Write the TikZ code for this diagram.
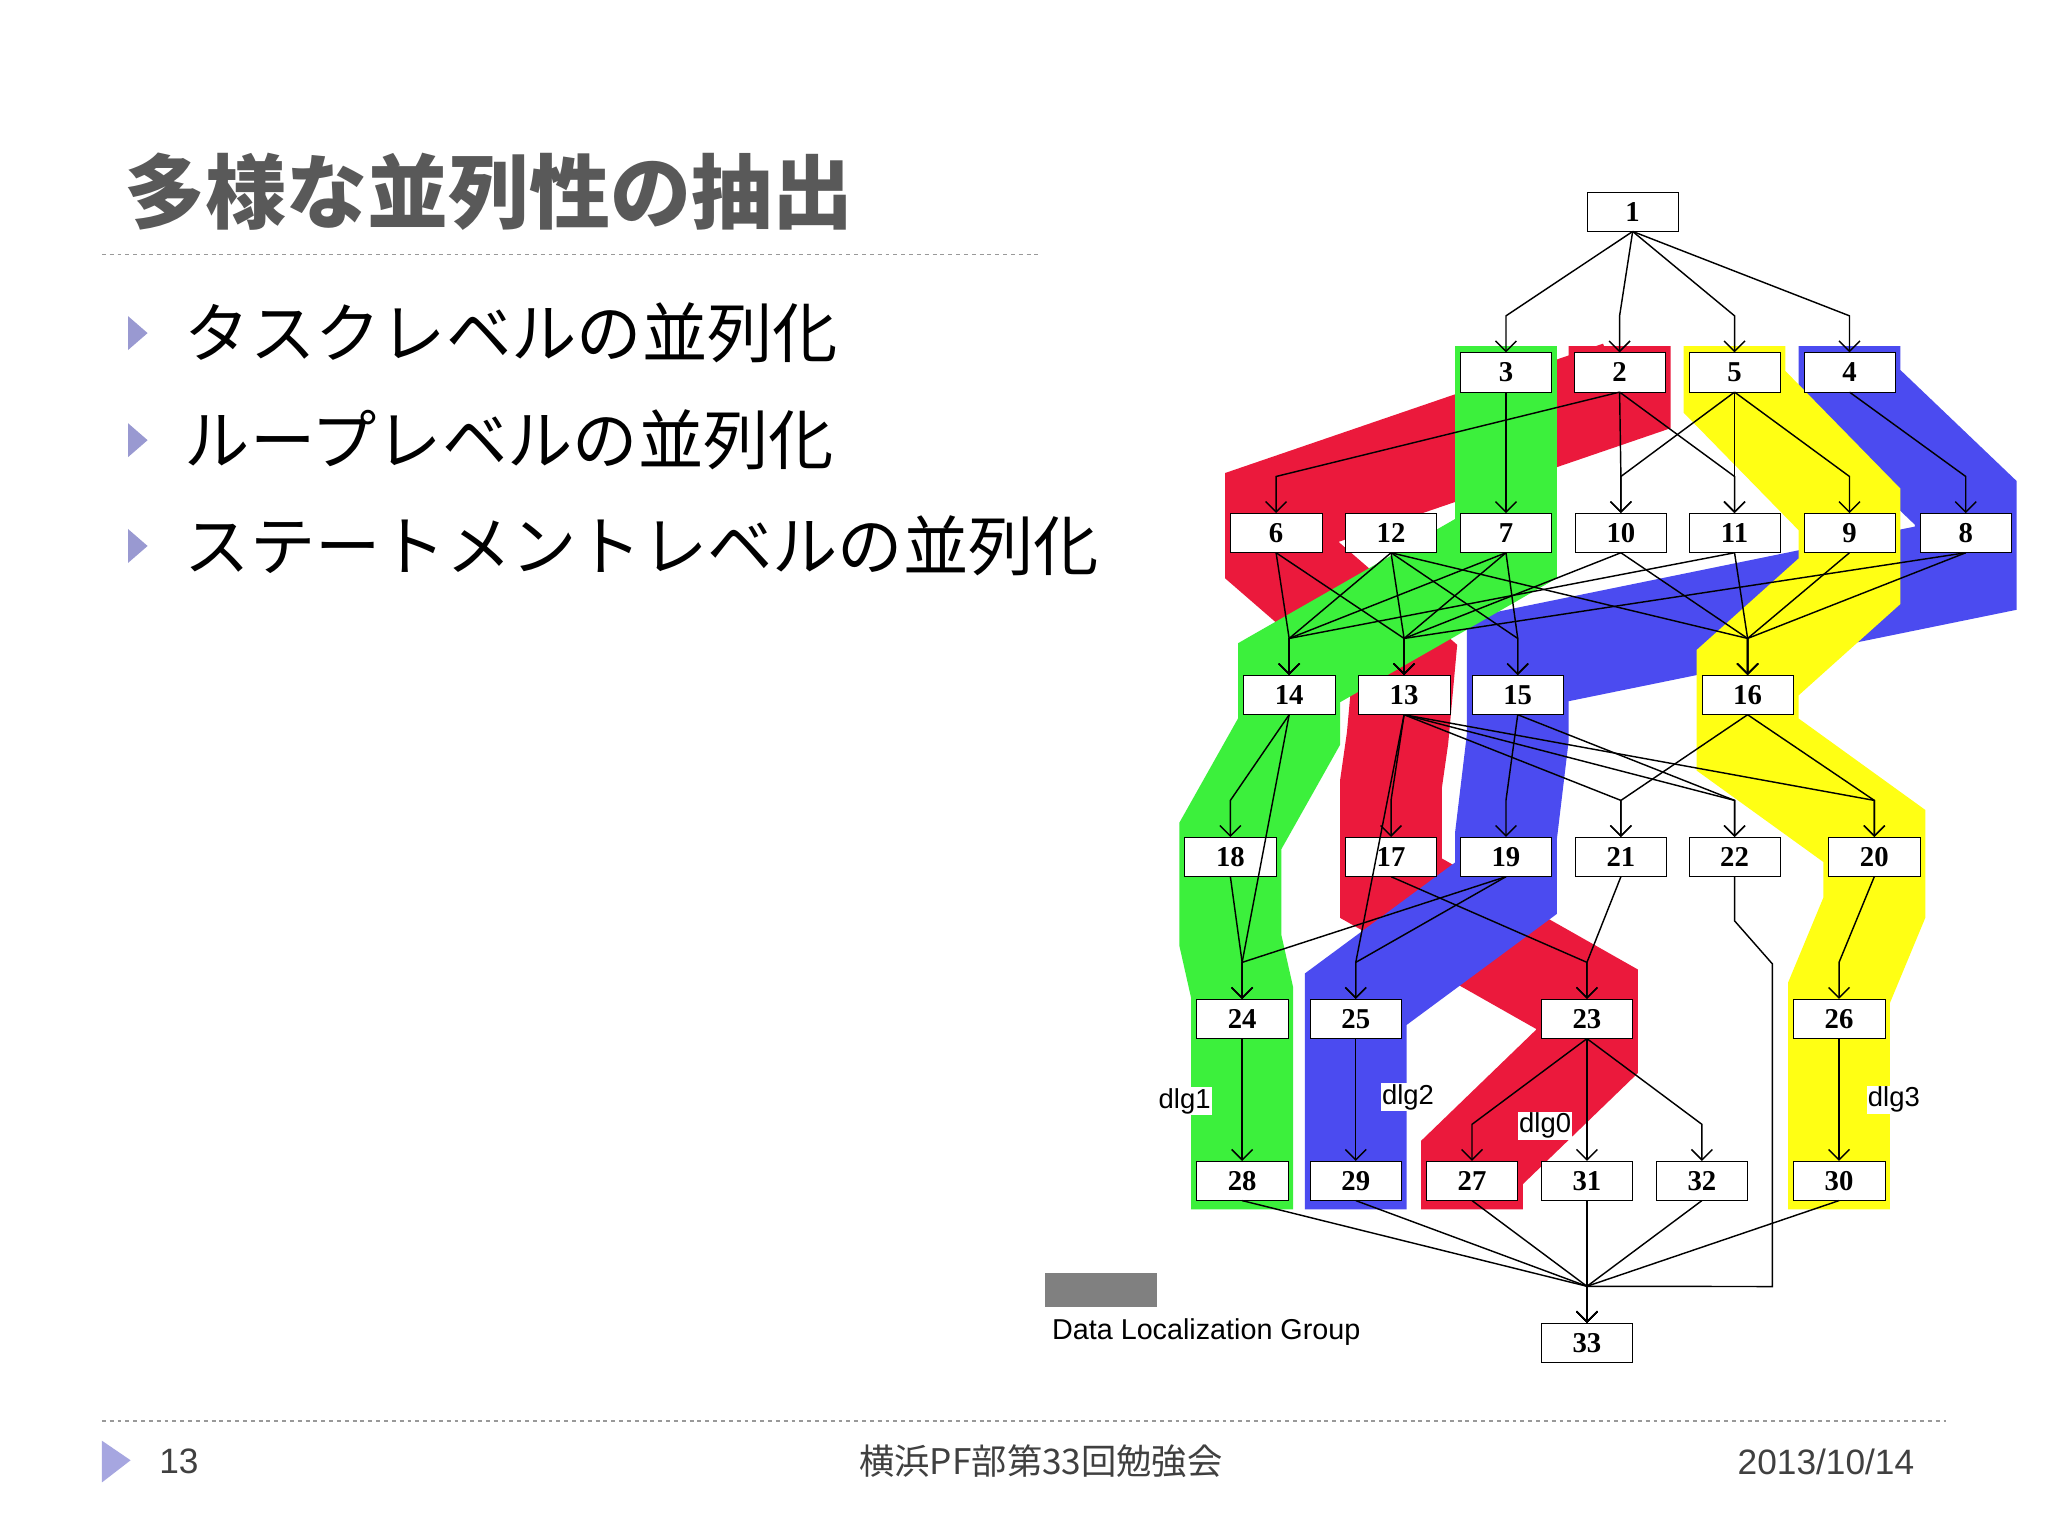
\documentclass[tikz,border=0pt]{standalone}
\usepackage{fontspec}
\setmainfont{Liberation Serif}
\newfontfamily\cjk{Noto Sans CJK JP}
\newfontfamily\sansf{Liberation Sans}
\usetikzlibrary{arrows.meta,calc}
\begin{document}
\begin{tikzpicture}[x=1pt,y=-1pt,
 tb/.style={draw,fill=white,minimum width=70pt,minimum height=30pt,inner sep=0pt,font=\bfseries\fontsize{22}{22}\selectfont},
 ed/.style={line width=1.1pt,-{Straight Barb[length=8pt,width=16pt]}},
 band/.style={line width=78pt,line join=miter,line cap=butt},
 dl/.style={fill=white,inner sep=1pt,font=\sansf\fontsize{21}{21}\selectfont}]
\useasboundingbox (0,0) rectangle (1568,1176);
\fill[white] (0,0) rectangle (1568,1176);
% title and bullets
\node[anchor=west,text=black!65,font=\cjk\bfseries\fontsize{62}{62}\selectfont] (title) at (92,147) {多様な並列性の抽出};
\draw[dashed,black!40,line width=1pt] (78,195) -- (795,195);
\foreach \y/\t [count=\i] in {255/タスクレベルの並列化,337/ループレベルの並列化,418/ステートメントレベルの並列化}{
 \fill[black!45!blue!40] (98,\y-13) -- (113,\y) -- (98,\y+13) -- cycle;
 \node[anchor=west,font=\cjk\fontsize{50}{50}\selectfont] (b\i) at (138,\y) {\t};}
% bands
\draw[band,draw={rgb,255:red,235;green,25;blue,60}] (1240,265)--(1240,300)--(977,390)--(977,425)--(1075,510)--(1070,565)--(1065,600)--(1065,680)--(1215,765)--(1215,805)--(1127,890)--(1127,926);
\draw[band,draw={rgb,255:red,75;green,75;blue,240}] (1416,265)--(1416,300)--(1505,385)--(1505,435)--(1162,505)--(1162,565)--(1153,640)--(1153,680)--(1038,765)--(1038,926);
\draw[band,draw={rgb,255:red,60;green,240;blue,60}] (1153,265)--(1153,420)--(987,515)--(987,560)--(942,640)--(942,720)--(951,760)--(951,926);
\draw[band,draw={rgb,255:red,255;green,255;blue,20}] (1328,265)--(1328,300)--(1416,390)--(1416,445)--(1338,515)--(1338,570)--(1435,640)--(1435,695)--(1408,760)--(1408,926);
% nodes
\foreach \n/\x/\y in {1/1250/162,3/1153/285,2/1240/285,5/1328/285,4/1416/285,
 6/977/408,12/1065/408,7/1153/408,10/1241/408,11/1328/408,9/1416/408,8/1505/408,
 14/987/532,13/1075/532,15/1162/532,16/1338/532,
 18/942/656,17/1065/656,19/1153/656,21/1241/656,22/1328/656,20/1435/656,
 24/951/780,25/1038/780,23/1215/780,26/1408/780,
 28/951/904,29/1038/904,27/1127/904,31/1215/904,32/1303/904,30/1408/904,33/1215/1028}
 \node[tb] (n\n) at (\x,\y) {\n};
\coordinate (k1) at (1328,705);
\coordinate (k2) at (1357,738);
\coordinate (k3) at (1357,985);
% edges
\foreach \a/\b in {1/3,1/2,1/5,1/4,3/7,2/6,2/10,2/11,5/10,5/11,5/9,4/8,
 6/14,6/13,12/14,12/13,12/15,12/16,7/14,7/13,7/15,10/13,10/16,11/14,11/16,9/16,8/16,8/13,
 14/18,13/17,13/21,13/22,13/20,13/25,15/19,15/22,16/21,16/20,
 18/24,14/24,17/23,19/25,19/24,21/23,20/26,
 24/28,25/29,23/27,23/31,23/32,26/30,
 28/33,29/33,27/33,31/33,32/33,30/33}
 \draw[ed] (n\a.south) -- ($(n\b.north)+(0,-28)$) -- (n\b.north);
\draw[ed] (n22.south) -- (k1) -- (k2) -- (k3) -- ($(n33.north)+(0,-28)$) -- (n33.north);
% dlg labels
\node[dl] (d1) at (907,843) {dlg1};
\node[dl] (d2) at (1078,840) {dlg2};
\node[dl] (d0) at (1183,862) {dlg0};
\node[dl] (d3) at (1450,842) {dlg3};
% legend
\fill[black!50] (800,975) rectangle (886,1001);
\node[anchor=west,font=\sansf\fontsize{22}{22}\selectfont] (leg) at (802,1020) {Data Localization Group};
% footer
\draw[dashed,black!40,line width=1pt] (78,1088) -- (1490,1088);
\fill[black!35!blue!35] (78,1103) -- (100,1118) -- (78,1135) -- cycle;
\node[font=\sansf\fontsize{27}{27}\selectfont,text=black!75] (pg) at (137,1119) {13};
\node[font=\cjk\fontsize{27}{27}\selectfont,text=black!75] (ft) at (797,1119) {横浜PF部第33回勉強会};
\node[font=\sansf\fontsize{27}{27}\selectfont,text=black!75] (dt) at (1398,1119) {2013/10/14};
\end{tikzpicture}
\end{document}
